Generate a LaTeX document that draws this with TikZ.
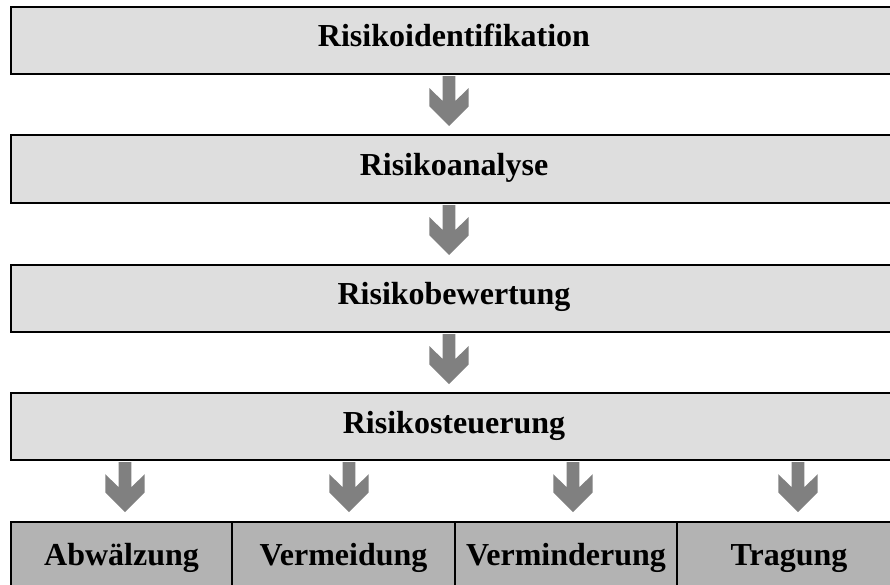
\documentclass[tikz,border=0pt]{standalone}
\usepackage{fontspec}
\setmainfont{Liberation Serif}
\definecolor{boxfill}{RGB}{222,222,222}
\definecolor{cellfill}{RGB}{179,179,179}
\definecolor{arrowgray}{RGB}{128,128,128}
\tikzset{
  stage/.style={draw=black, line width=2pt, fill=boxfill, rectangle, inner sep=0pt,
    minimum width=886pt, minimum height=67pt, text height=22pt, text depth=9.4pt,
    font=\fontsize{32}{38}\selectfont\bfseries},
  cell/.style={draw=black, line width=2pt, fill=cellfill, rectangle, inner sep=0pt,
    minimum height=73.4pt, text height=22pt, text depth=9.4pt,
    font=\fontsize{32}{38}\selectfont\bfseries},
  chevarrow/.pic={
    \fill[arrowgray] (-6.35,0) -- (6.35,0) -- (6.35,25) -- (19.7,12) -- (19.7,30.3)
      -- (0,50) -- (-19.7,30.3) -- (-19.7,12) -- (-6.35,25) -- cycle;
  }
}
\begin{document}
\begin{tikzpicture}[x=1pt,y=-1pt]
\useasboundingbox (0,0) rectangle (890,584);
\clip (0,0) rectangle (890,584);
\node[stage] (b1) at (454,40.5) {Risikoidentifikation};
\node[stage, minimum height=68pt] (b2) at (454,169) {Risikoanalyse};
\node[stage] (b3) at (454,298.5) {Risikobewertung};
\node[stage] (b4) at (454,426.7) {Risikosteuerung};
\node[cell, minimum width=221pt] (c1) at (121.5,558.7) {Abwälzung};
\node[cell, minimum width=223pt] (c2) at (343.5,558.7) {Vermeidung};
\node[cell, minimum width=222pt] (c3) at (566,558.7) {Verminderung};
\node[cell, minimum width=224pt] (c4) at (789,558.7) {Tragung};
\coordinate (m) at (449,0);
\coordinate (a1) at (125,0);
\coordinate (a2) at (349,0);
\coordinate (a3) at (573,0);
\coordinate (a4) at (798,0);
\pic at ([yshift=-1pt]b1.south -| m) {chevarrow};
\pic at ([yshift=-1pt]b2.south -| m) {chevarrow};
\pic at ([yshift=-1pt]b3.south -| m) {chevarrow};
\pic at ([yshift=-1pt]b4.south -| a1) {chevarrow};
\pic at ([yshift=-1pt]b4.south -| a2) {chevarrow};
\pic at ([yshift=-1pt]b4.south -| a3) {chevarrow};
\pic at ([yshift=-1pt]b4.south -| a4) {chevarrow};
\end{tikzpicture}
\end{document}
